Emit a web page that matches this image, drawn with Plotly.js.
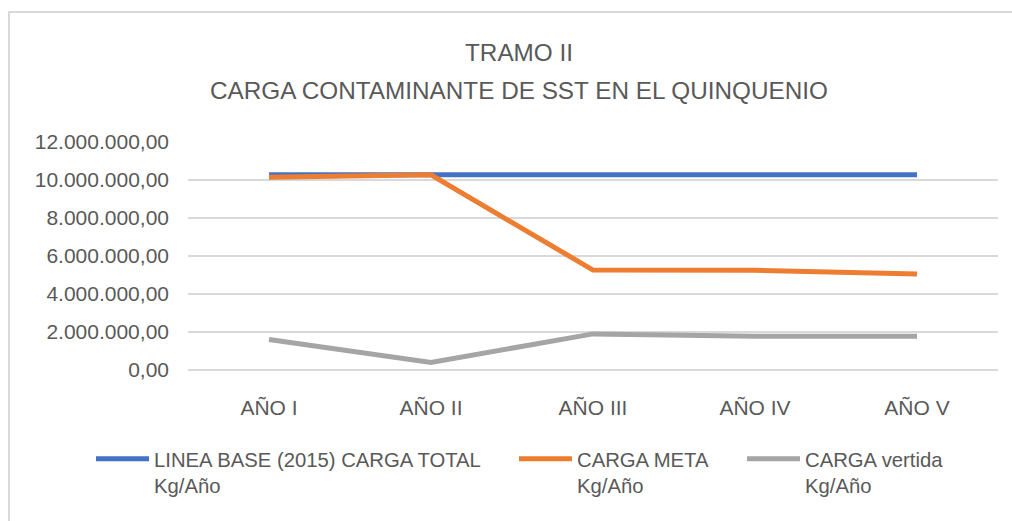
<!DOCTYPE html>
<html>
<head>
<meta charset="utf-8">
<script src="https://cdn.plot.ly/plotly-3.0.1.min.js"></script>
<style>
  html, body { margin: 0; padding: 0; background: #ffffff; }
  #chart { width: 1012px; height: 521px; }
</style>
</head>
<body>
<div id="chart"></div>
<script>
// ---- Data ----
var categories = ['AÑO I', 'AÑO II', 'AÑO III', 'AÑO IV', 'AÑO V'];
var lineaBase = [10270000, 10270000, 10270000, 10270000, 10270000];
var cargaMeta = [10150000, 10270000, 5260000, 5250000, 5050000];
var cargaVertida = [1600000, 400000, 1900000, 1780000, 1780000];
var seriesNames = ['LINEA BASE (2015) CARGA TOTAL<br>Kg/Año', 'CARGA META<br>Kg/Año', 'CARGA vertida<br>Kg/Año'];
var titleLines = ['TRAMO II', 'CARGA CONTAMINANTE DE SST EN EL QUINQUENIO'];
var yTickValues = [0, 2000000, 4000000, 6000000, 8000000, 10000000, 12000000];

// ---- Layout geometry (pixels) ----
var W = 1012, H = 521;
var M = { l: 188, r: 14, t: 142, b: 151 };
var PW = W - M.l - M.r, PH = H - M.t - M.b;
function px2x(px) { return (px - M.l) / PW; }
function py2y(py) { return (H - M.b - py) / PH; }

var textColor = '#595959';
var fontFam = 'Liberation Sans, Arial, sans-serif';

var traces = [
  { x: categories, y: lineaBase, name: seriesNames[0], legend: 'legend',
    type: 'scatter', mode: 'lines', line: { color: '#4472C4', width: 5 } },
  { x: categories, y: cargaMeta, name: seriesNames[1], legend: 'legend2',
    type: 'scatter', mode: 'lines', line: { color: '#ED7D31', width: 5 } },
  { x: categories, y: cargaVertida, name: seriesNames[2], legend: 'legend3',
    type: 'scatter', mode: 'lines', line: { color: '#A5A5A5', width: 5 } }
];

function legendAt(px) {
  return {
    x: px2x(px), xanchor: 'left', y: py2y(439), yanchor: 'top',
    orientation: 'h', valign: 'top', itemwidth: 53,
    bgcolor: 'rgba(0,0,0,0)', borderwidth: 0,
    font: { family: fontFam, size: 20.3, color: textColor }
  };
}

var layout = {
  width: W, height: H,
  margin: M,
  paper_bgcolor: '#ffffff',
  plot_bgcolor: '#ffffff',
  separators: ',.',
  font: { family: fontFam, size: 21, color: textColor },
  showlegend: true,
  legend: legendAt(91),
  legend2: legendAt(514),
  legend3: legendAt(742),
  xaxis: {
    type: 'category',
    range: [-0.5, 4.5],
    showgrid: false, zeroline: false, showline: false,
    ticks: '', ticklabelstandoff: 23,
    tickfont: { family: fontFam, size: 21, color: textColor }
  },
  yaxis: {
    range: [0, 12000000],
    tickvals: yTickValues,
    tickformat: ',.2f',
    showgrid: true, gridcolor: '#D9D9D9', gridwidth: 2,
    zeroline: true, zerolinecolor: '#D9D9D9', zerolinewidth: 2,
    showline: false, ticks: '', ticklabelstandoff: 18,
    tickfont: { family: fontFam, size: 21, color: textColor }
  },
  annotations: [
    { text: titleLines[0], xref: 'paper', yref: 'paper', x: px2x(519), y: py2y(52),
      xanchor: 'center', yanchor: 'middle', showarrow: false,
      font: { family: fontFam, size: 24.3, color: textColor } },
    { text: titleLines[1], xref: 'paper', yref: 'paper', x: px2x(519), y: py2y(90),
      xanchor: 'center', yanchor: 'middle', showarrow: false,
      font: { family: fontFam, size: 24.3, color: textColor } }
  ],
  shapes: [
    { type: 'line', xref: 'paper', yref: 'paper', x0: px2x(9), x1: px2x(9), y0: py2y(11), y1: py2y(530),
      line: { color: '#D9D9D9', width: 2 } },
    { type: 'line', xref: 'paper', yref: 'paper', x0: px2x(8), x1: px2x(1020), y0: py2y(12), y1: py2y(12),
      line: { color: '#D9D9D9', width: 2 } }
  ]
};

Plotly.newPlot('chart', traces, layout, { displayModeBar: false, staticPlot: true });
</script>
</body>
</html>
